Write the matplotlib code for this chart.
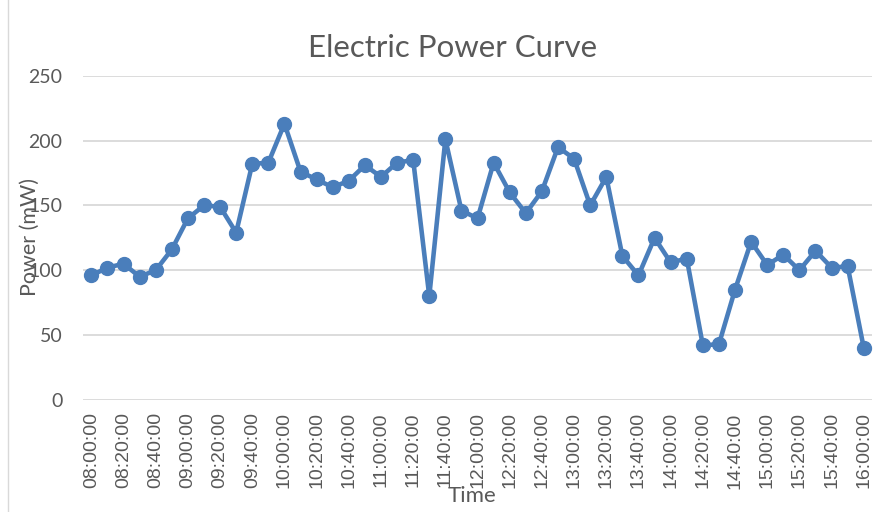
import matplotlib
matplotlib.use('Agg')
import matplotlib.pyplot as plt
from matplotlib.lines import Line2D

# Sampled every 10 minutes, 08:00 to 16:00
times = ['%02d:%02d:00' % (8 + i // 6, (i % 6) * 10) for i in range(49)]
power = [96, 102, 105, 95, 100, 116, 140, 150, 149, 129,
         182, 183, 213, 176, 170, 164, 169, 181, 172, 183,
         185, 80, 201, 146, 140, 183, 160, 144, 161, 195,
         186, 150, 172, 111, 96, 125, 106, 109, 42, 43,
         85, 122, 104, 112, 100, 115, 102, 103, 40]
y_ticks = [0, 50, 100, 150, 200, 250]

plt.rcParams['font.family'] = ['Lato', 'DejaVu Sans']
grey = '#595959'

fig = plt.figure(figsize=(8.86, 5.12), dpi=100)
ax = fig.add_axes([0.094, 0.219, 0.89, 0.633])

x = list(range(len(times)))
ax.plot(x, power, color='#4a7ebb', linewidth=3.3, marker='o', markersize=10,
        solid_joinstyle='round', zorder=3)

ax.set_ylim(0, 250)
ax.set_xlim(-0.5, len(times) - 0.5)
ax.set_yticks(y_ticks)
ax.set_xticks(x[::2])
ax.set_xticklabels(times[::2], rotation=90, family=['Liberation Sans'], fontsize=14.5)
ax.grid(axis='y', color='#d9d9d9', linewidth=1.3)
ax.set_axisbelow(True)
for s in ax.spines.values():
    s.set_visible(False)
ax.tick_params(length=0, labelsize=14, labelcolor=grey)
ax.tick_params(axis='x', pad=9)
ax.tick_params(axis='y', pad=15)

fig.text(0.511, 0.906, 'Electric Power Curve', ha='center', va='center',
         fontsize=22.5, color=grey)
fig.text(0.533, 0.012, 'Time', ha='center', va='bottom', fontsize=16, color=grey)
fig.text(0.034, 0.537, 'Power (mW)', ha='center', va='center', rotation=90,
         fontsize=15.5, color=grey)

# chart border on the left
fig.add_artist(Line2D([0.009, 0.009], [0, 1], transform=fig.transFigure,
                      color='#d9d9d9', linewidth=1))

fig.savefig('out.png', dpi=100)
